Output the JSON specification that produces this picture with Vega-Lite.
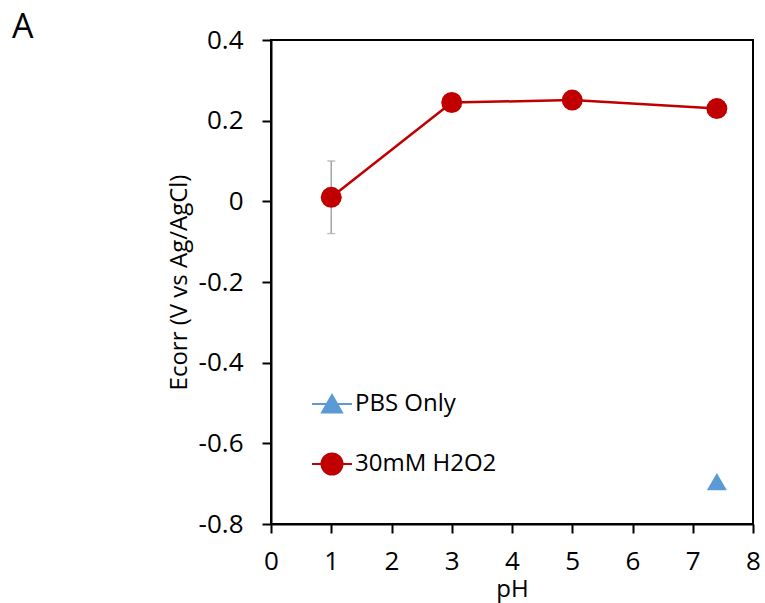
{
  "$schema": "https://vega.github.io/schema/vega-lite/v6.json",
  "autosize": {"type": "none"},
  "width": 482,
  "height": 484,
  "padding": {"left": 271, "top": 40, "right": 12, "bottom": 79},
  "background": "white",
  "title": {
    "text": "A",
    "anchor": "start",
    "frame": "group",
    "dx": -259,
    "dy": 45,
    "offset": 0,
    "baseline": "alphabetic",
    "fontSize": 34,
    "fontWeight": "normal",
    "font": "Open Sans",
    "color": "black"
  },
  "config": {
    "font": "Open Sans",
    "view": {"stroke": "black", "strokeWidth": 2},
    "axis": {
      "domainColor": "black",
      "domainWidth": 2,
      "tickColor": "black",
      "tickWidth": 2,
      "tickSize": 9,
      "grid": false,
      "labelFont": "Open Sans",
      "labelFontSize": 26,
      "labelColor": "black",
      "titleFont": "Open Sans",
      "titleFontSize": 24,
      "titleFontWeight": "normal",
      "titleColor": "black"
    }
  },
  "data": {
    "values": [
      {"series": "30mM H2O2", "pH": 1, "ecorr": 0.01, "lo": -0.08, "hi": 0.1},
      {"series": "30mM H2O2", "pH": 3, "ecorr": 0.245},
      {"series": "30mM H2O2", "pH": 5, "ecorr": 0.251},
      {"series": "30mM H2O2", "pH": 7.4, "ecorr": 0.23},
      {"series": "PBS Only", "pH": 7.4, "ecorr": -0.695}
    ]
  },
  "encoding": {
    "x": {
      "field": "pH",
      "type": "quantitative",
      "scale": {"domain": [0, 8], "nice": false, "zero": false},
      "axis": {"values": [0, 1, 2, 3, 4, 5, 6, 7, 8], "title": "pH", "labelPadding": 15, "titlePadding": 3, "labelFlush": false}
    },
    "y": {
      "field": "ecorr",
      "type": "quantitative",
      "scale": {"domain": [-0.8, 0.4], "nice": false},
      "axis": {
        "values": [-0.8, -0.6, -0.4, -0.2, 0, 0.2, 0.4],
        "title": "Ecorr (V vs Ag/AgCl)",
        "labelPadding": 19,
        "titlePadding": 7,
        "labelFlush": false,
        "labelExpr": "abs(datum.value) < 1e-9 ? '0' : (datum.value < 0 ? '-' + format(-datum.value, '.1f') : format(datum.value, '.1f'))"
      }
    }
  },
  "layer": [
    {
      "transform": [{"filter": "isValid(datum.lo)"}],
      "mark": {"type": "rule", "color": "#a6a6a6", "strokeWidth": 1.5},
      "encoding": {"y": {"field": "lo", "type": "quantitative"}, "y2": {"field": "hi"}}
    },
    {
      "transform": [{"filter": "isValid(datum.lo)"}],
      "mark": {"type": "tick", "color": "#a6a6a6", "thickness": 1.5, "size": 8, "orient": "horizontal"},
      "encoding": {"y": {"field": "lo", "type": "quantitative"}}
    },
    {
      "transform": [{"filter": "isValid(datum.lo)"}],
      "mark": {"type": "tick", "color": "#a6a6a6", "thickness": 1.5, "size": 8, "orient": "horizontal"},
      "encoding": {"y": {"field": "hi", "type": "quantitative"}}
    },
    {
      "transform": [{"filter": "datum.series == '30mM H2O2'"}],
      "mark": {"type": "line", "color": "#c00000", "strokeWidth": 2.5},
      "encoding": {}
    },
    {
      "transform": [{"filter": "datum.series == 'PBS Only'"}],
      "mark": {"type": "point", "filled": true, "opacity": 1, "size": 400, "shape": "triangle-up"},
      "encoding": {
        "color": {
          "field": "series",
          "type": "nominal",
          "scale": {"domain": ["PBS Only", "30mM H2O2"], "range": ["#5b9bd5", "#c00000"]},
          "legend": {
            "title": null,
            "orient": "none",
            "legendX": 49,
            "legendY": 352,
            "padding": 0,
            "symbolSize": 441,
            "rowPadding": 32,
            "labelOffset": 11,
            "labelFontSize": 24,
            "labelFont": "Open Sans",
            "labelColor": "black",
            "symbolOpacity": 1,
            "encode": {
              "symbols": {
                "update": {
                  "shape": {"signal": "datum.value == 'PBS Only' ? 'M-1.9,0L1.9,0M0,-0.85L0.95,0.8L-0.95,0.8Z' : 'M-1.9,0L1.9,0M1,0A1,1,0,1,1,-1,0A1,1,0,1,1,1,0Z'"},
                  "stroke": {"signal": "datum.value == 'PBS Only' ? '#5b9bd5' : '#c00000'"},
                  "strokeWidth": {"value": 2}
                }
              }
            }
          }
        }
      }
    },
    {
      "transform": [{"filter": "datum.series == '30mM H2O2'"}],
      "mark": {"type": "point", "filled": true, "opacity": 1, "size": 441, "shape": "circle"},
      "encoding": {
        "color": {"field": "series", "type": "nominal"}
      }
    }
  ]
}
